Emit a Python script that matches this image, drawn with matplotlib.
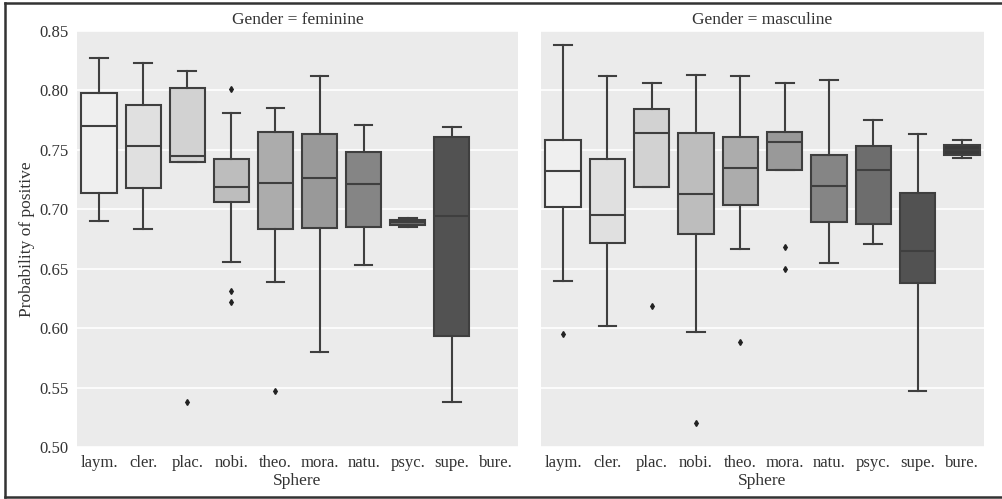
#! python3
# grouped boxplots of positive probability per sphere, split by gender

import matplotlib
matplotlib.use("Agg")
import matplotlib.pyplot as plt
from matplotlib.lines import Line2D

spheres = ["laym.", "cler.", "plac.", "nobi.", "theo.", "mora.", "natu.", "psyc.", "supe.", "bure."]

# feminine (no bureaucracy data)
fem_whislo = [0.690, 0.683, 0.740, 0.656, 0.639, 0.580, 0.653, 0.685, 0.538, None]
fem_q1 = [0.714, 0.718, 0.740, 0.706, 0.683, 0.684, 0.685, 0.687, 0.593, None]
fem_med = [0.770, 0.753, 0.745, 0.719, 0.722, 0.726, 0.721, 0.689, 0.694, None]
fem_q3 = [0.798, 0.788, 0.802, 0.742, 0.765, 0.763, 0.748, 0.691, 0.761, None]
fem_whishi = [0.827, 0.823, 0.816, 0.781, 0.785, 0.812, 0.771, 0.693, 0.769, None]
fem_fliers = [[], [], [0.538], [0.801, 0.631, 0.622], [0.547], [], [], [], [], []]

# masculine
mas_whislo = [0.640, 0.602, 0.719, 0.597, 0.667, 0.733, 0.655, 0.671, 0.547, 0.743]
mas_q1 = [0.702, 0.672, 0.719, 0.679, 0.704, 0.733, 0.689, 0.688, 0.638, 0.746]
mas_med = [0.732, 0.695, 0.764, 0.713, 0.735, 0.757, 0.720, 0.733, 0.665, 0.750]
mas_q3 = [0.758, 0.742, 0.784, 0.764, 0.761, 0.765, 0.746, 0.753, 0.714, 0.754]
mas_whishi = [0.838, 0.812, 0.806, 0.813, 0.812, 0.806, 0.809, 0.775, 0.763, 0.758]
mas_fliers = [[0.595], [], [0.619], [0.520], [0.588], [0.668, 0.650], [], [], [], []]

greys = ["#efefef", "#e0e0e0", "#d2d2d2", "#bdbdbd", "#acacac",
         "#999999", "#858585", "#6d6d6d", "#525252", "#3a3a3a"]
line_col = "#3f3f3f"

plt.rcParams["font.family"] = ["Liberation Serif", "DejaVu Serif"]


def make_stats(whislo, q1, med, q3, whishi, fliers):
    stats, pos, cols = [], [], []
    for i in range(len(spheres)):
        if med[i] is None:
            continue
        stats.append(dict(whislo=whislo[i], q1=q1[i], med=med[i], q3=q3[i],
                          whishi=whishi[i], fliers=fliers[i]))
        pos.append(i)
        cols.append(greys[i])
    return stats, pos, cols


fig = plt.figure(figsize=(10.03, 4.99), dpi=100)
ax1 = fig.add_axes([77 / 1003, 1 - 447 / 499, 441 / 1003, 416 / 499])
ax2 = fig.add_axes([541 / 1003, 1 - 447 / 499, 443 / 1003, 416 / 499], sharey=ax1)

panels = [
    (ax1, "feminine", make_stats(fem_whislo, fem_q1, fem_med, fem_q3, fem_whishi, fem_fliers)),
    (ax2, "masculine", make_stats(mas_whislo, mas_q1, mas_med, mas_q3, mas_whishi, mas_fliers)),
]

for ax, gender, (stats, pos, cols) in panels:
    ax.set_facecolor("#ebebeb")
    for s in ax.spines.values():
        s.set_visible(False)
    ax.set_axisbelow(True)
    ax.yaxis.grid(True, color="white", linewidth=1.2)
    bp = ax.bxp(stats, positions=pos, widths=0.8, patch_artist=True,
                boxprops=dict(edgecolor=line_col, linewidth=1.5),
                medianprops=dict(color=line_col, linewidth=1.5),
                whiskerprops=dict(color=line_col, linewidth=1.5),
                capprops=dict(color=line_col, linewidth=1.5),
                flierprops=dict(marker="d", markersize=3, markerfacecolor="#222222",
                                markeredgecolor="#222222"))
    for patch, c in zip(bp["boxes"], cols):
        patch.set_facecolor(c)
    ax.set_xlim(-0.5, 9.5)
    ax.set_xticks(range(len(spheres)))
    ax.set_xticklabels(spheres, fontsize=12, color="#333333")
    ax.tick_params(length=0, pad=6, labelsize=12, labelcolor="#333333")
    ax.set_xlabel("Sphere", fontsize=12.5, color="#333333", labelpad=1)
    ax.set_title("Gender = " + gender, fontsize=12.5, color="#333333", pad=5)

ax1.set_ylim(0.5, 0.85)
ax1.set_yticks([0.50, 0.55, 0.60, 0.65, 0.70, 0.75, 0.80, 0.85])
ax1.set_yticklabels(["0.50", "0.55", "0.60", "0.65", "0.70", "0.75", "0.80", "0.85"])
ax1.set_ylabel("Probability of positive", fontsize=12.5, color="#333333", labelpad=3)
plt.setp(ax2.get_yticklabels(), visible=False)

# frame on top, left and bottom of the picture
x0, x1 = 5 / 1003, 1.0
y0, y1 = 1 - 497 / 499, 1 - 3 / 499
for xs, ys in [([x0, x1], [y1, y1]), ([x0, x1], [y0, y0]), ([x0, x0], [y0, y1])]:
    fig.lines.append(Line2D(xs, ys, transform=fig.transFigure,
                            color="#333333", linewidth=1.8))

fig.savefig("out.png", dpi=100)
